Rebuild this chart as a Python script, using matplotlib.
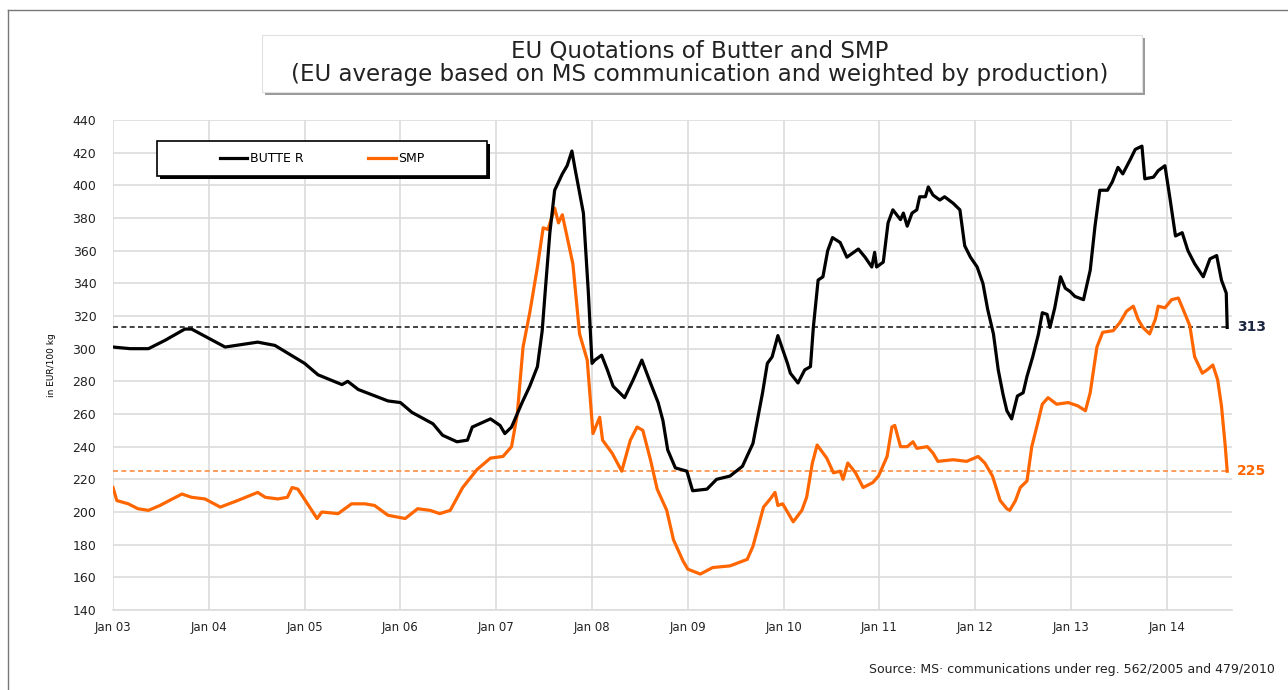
import numpy as np
import matplotlib.pyplot as plt
from matplotlib.patches import Rectangle

# years since Jan 2003, EUR/100 kg
butter_t = [0.00, 0.18, 0.37, 0.54, 0.75, 0.82, 1.01, 1.17, 1.51, 1.69, 2.00, 2.14, 2.39, 2.45,
            2.56, 2.87, 3.00, 3.12, 3.34, 3.44, 3.59, 3.70, 3.75, 3.94, 4.04, 4.09, 4.16, 4.27,
            4.35, 4.43, 4.48, 4.51, 4.56, 4.61, 4.69, 4.74, 4.79, 4.82, 4.91, 4.96, 5.00, 5.03,
            5.10, 5.16, 5.22, 5.34, 5.43, 5.52, 5.61, 5.69, 5.74, 5.79, 5.87, 5.99, 6.05, 6.20,
            6.30, 6.44, 6.57, 6.68, 6.78, 6.83, 6.88, 6.94, 7.04, 7.07, 7.15, 7.22, 7.28, 7.31,
            7.36, 7.41, 7.46, 7.51, 7.59, 7.66, 7.78, 7.85, 7.92, 7.95, 7.97, 8.04, 8.09, 8.14,
            8.22, 8.25, 8.29, 8.34, 8.39, 8.42, 8.48, 8.51, 8.56, 8.63, 8.68, 8.77, 8.84, 8.89,
            8.95, 9.02, 9.08, 9.13, 9.19, 9.24, 9.29, 9.33, 9.38, 9.44, 9.50, 9.54, 9.60, 9.66,
            9.70, 9.75, 9.78, 9.83, 9.89, 9.94, 9.99, 10.04, 10.13, 10.20, 10.25, 10.30, 10.38,
            10.43, 10.49, 10.54, 10.62, 10.67, 10.74, 10.77, 10.86, 10.91, 10.98, 11.03, 11.09,
            11.16, 11.22, 11.29, 11.38, 11.45, 11.52, 11.57, 11.62, 11.63]
butter_v = [301, 300, 300, 305, 312, 312, 306, 301, 304, 302, 291, 284, 278, 280,
            275, 268, 267, 261, 254, 247, 243, 244, 252, 257, 253, 248, 252, 267,
            277, 289, 311, 334, 371, 397, 407, 412, 421, 411, 383, 336, 291, 293,
            296, 287, 277, 270, 281, 293, 279, 267, 256, 238, 227, 225, 213, 214,
            220, 222, 228, 242, 273, 291, 295, 308, 291, 285, 279, 287, 289, 313,
            342, 344, 360, 368, 365, 356, 361, 356, 350, 359, 350, 353, 377, 385,
            379, 383, 375, 383, 385, 393, 393, 399, 394, 391, 393, 389, 385, 363,
            356, 350, 340, 324, 309, 287, 272, 262, 257, 271, 273, 283, 295, 309,
            322, 321, 313, 325, 344, 337, 335, 332, 330, 348, 375, 397, 397,
            402, 411, 407, 416, 422, 424, 404, 405, 409, 412, 393, 369,
            371, 360, 352, 344, 355, 357, 342, 334, 313]

smp_t = [0.00, 0.04, 0.16, 0.26, 0.37, 0.49, 0.62, 0.72, 0.82, 0.96, 1.12, 1.30, 1.51, 1.59,
         1.72, 1.82, 1.87, 1.93, 2.03, 2.13, 2.18, 2.35, 2.49, 2.63, 2.73, 2.87, 3.05, 3.18,
         3.31, 3.41, 3.52, 3.65, 3.80, 3.94, 4.07, 4.16, 4.22, 4.28, 4.35, 4.43, 4.49, 4.54,
         4.61, 4.65, 4.69, 4.77, 4.80, 4.87, 4.95, 5.01, 5.08, 5.11, 5.21, 5.31, 5.40, 5.47,
         5.53, 5.61, 5.68, 5.78, 5.85, 5.95, 6.00, 6.13, 6.26, 6.44, 6.62, 6.68, 6.79, 6.86,
         6.91, 6.94, 6.99, 7.10, 7.19, 7.24, 7.30, 7.35, 7.45, 7.52, 7.59, 7.62, 7.67, 7.75,
         7.83, 7.93, 7.99, 8.08, 8.13, 8.16, 8.22, 8.29, 8.35, 8.39, 8.50, 8.56, 8.61, 8.77,
         8.91, 9.03, 9.10, 9.18, 9.26, 9.33, 9.36, 9.42, 9.47, 9.54, 9.59, 9.65, 9.70, 9.76,
         9.85, 9.97, 10.07, 10.15, 10.20, 10.27, 10.33, 10.44, 10.51, 10.58, 10.65, 10.70,
         10.75, 10.82, 10.88, 10.91, 10.98, 11.05, 11.12, 11.17, 11.24, 11.29, 11.37, 11.42,
         11.48, 11.53, 11.57, 11.61, 11.63]
smp_v = [215, 207, 205, 202, 201, 204, 208, 211, 209, 208, 203, 207, 212, 209,
         208, 209, 215, 214, 205, 196, 200, 199, 205, 205, 204, 198, 196, 202,
         201, 199, 201, 215, 226, 233, 234, 240, 260, 301, 322, 350, 374, 373,
         386, 377, 382, 360, 352, 309, 293, 248, 258, 244, 236, 225, 244, 252,
         250, 232, 214, 201, 183, 170, 165, 162, 166, 167, 171, 179, 203, 208,
         212, 204, 205, 194, 201, 209, 230, 241, 233, 224, 225, 220, 230, 224,
         215, 218, 222, 234, 252, 253, 240, 240, 243, 239, 240, 236, 231, 232,
         231, 234, 230, 222, 207, 202, 201, 207, 215, 219, 240, 254, 266, 270,
         266, 267, 265, 262, 273, 301, 310, 311, 316, 323, 326, 318,
         313, 309, 318, 326, 325, 330, 331, 324, 314, 295, 285, 287,
         290, 281, 265, 240, 225]

butter_last = 313
smp_last = 225
year_labels = ['Jan 03', 'Jan 04', 'Jan 05', 'Jan 06', 'Jan 07', 'Jan 08',
               'Jan 09', 'Jan 10', 'Jan 11', 'Jan 12', 'Jan 13', 'Jan 14']

ORANGE = '#FF6600'
font = 'DejaVu Sans'

fig = plt.figure(figsize=(12.88, 6.9), dpi=100)
ax = fig.add_axes([113 / 1288, 1 - 610 / 690, 1119 / 1288, 490 / 690])

ax.plot(butter_t, butter_v, color='black', lw=2.3, label='BUTTE R', zorder=4)
ax.plot(smp_t, smp_v, color=ORANGE, lw=2.3, label='SMP', zorder=3)

t_end = butter_t[-1]
ax.hlines(butter_last, 0, t_end, colors='#222222', linestyles=(0, (3, 2)), lw=1.2, zorder=2)
ax.hlines(smp_last, 0, t_end, colors='#FF8C40', linestyles=(0, (3, 2)), lw=1.2, zorder=2)
ax.text(t_end + 0.1, butter_last, str(butter_last), color='#1C2742', fontsize=10,
        fontweight='bold', va='center', ha='left', family=font)
ax.text(t_end + 0.1, smp_last, str(smp_last), color=ORANGE, fontsize=10,
        fontweight='bold', va='center', ha='left', family=font)

ax.set_xlim(0, 11.68)
ax.set_ylim(140, 440)
ax.set_xticks(np.arange(len(year_labels)))
ax.set_xticklabels(year_labels, fontsize=8.5, family=font, color='#222222')
ax.set_yticks(np.arange(140, 441, 20))
ax.tick_params(axis='y', labelsize=9, labelcolor='#222222', length=0, pad=12)
ax.tick_params(axis='x', length=0, pad=8)
ax.grid(True, color='#DCDCDC', lw=1.2)
ax.set_axisbelow(True)
for side in ['left', 'right', 'top']:
    ax.spines[side].set_visible(False)
ax.spines['bottom'].set_color('#DCDCDC')
ax.spines['bottom'].set_linewidth(1.2)

ax.set_ylabel('in EUR/100 kg', fontsize=6.5, labelpad=12, family=font)

# legend box with black shadow
bx, by, bw, bh = 0.0393, 0.886, 0.295, 0.071
ax.add_patch(Rectangle((bx + 0.003, by - 0.006), bw, bh, transform=ax.transAxes,
                       facecolor='black', edgecolor='none', zorder=5))
ax.add_patch(Rectangle((bx, by), bw, bh, transform=ax.transAxes,
                       facecolor='white', edgecolor='black', lw=1.2, zorder=6))
leg = ax.legend(loc='center', bbox_to_anchor=(bx + bw / 2, by + bh / 2),
                ncol=2, frameon=False, prop={'family': font, 'size': 9},
                handlelength=2.2, handletextpad=0.2, columnspacing=5.2)
leg.set_zorder(7)

# title box with shadow
fig.patches.append(Rectangle((265 / 1288, 1 - 95 / 690), 880 / 1288, 57 / 690,
                             transform=fig.transFigure, facecolor='#9A9A9A',
                             edgecolor='none', zorder=0))
fig.patches.append(Rectangle((262 / 1288, 1 - 92 / 690), 880 / 1288, 57 / 690,
                             transform=fig.transFigure, facecolor='white',
                             edgecolor='#E0E0E0', lw=0.8, zorder=1))
fig.text(700 / 1288, 1 - 63 / 690,
         'EU Quotations of Butter and SMP\n(EU average based on MS communication and weighted by production)',
         ha='center', va='center', fontsize=16.5, family=font, linespacing=1.05, color='#222222')

# outer frame
fig.add_artist(plt.Line2D([8 / 1288, 8 / 1288], [0, 1 - 10 / 690], color='#777777', lw=1,
                          transform=fig.transFigure))
fig.add_artist(plt.Line2D([8 / 1288, 1], [1 - 10 / 690, 1 - 10 / 690], color='#777777', lw=1,
                          transform=fig.transFigure))

fig.text(1275 / 1288, 1 - 670 / 690,
         'Source: MS\u00b7 communications under reg. 562/2005 and 479/2010',
         ha='right', va='center', fontsize=9, family=font, color='#222222')

fig.savefig('out.png', dpi=100)
